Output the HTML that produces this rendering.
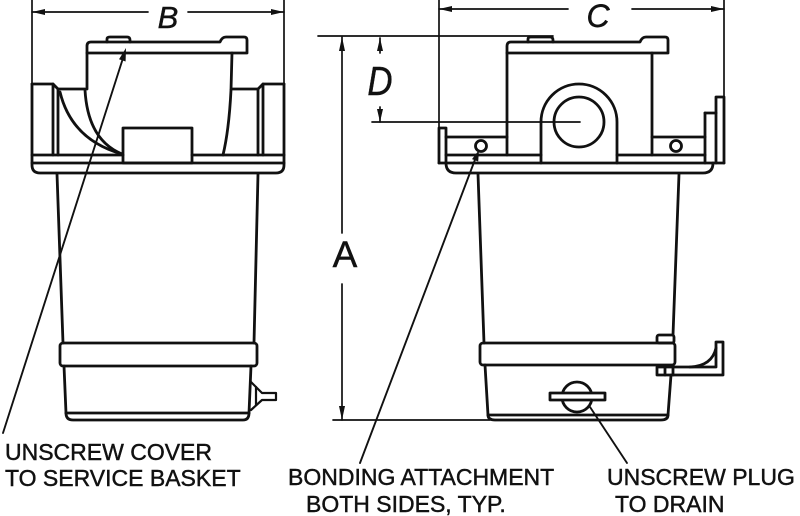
<!DOCTYPE html>
<html><head><meta charset="utf-8"><style>
html,body{margin:0;padding:0;background:#fff;}
svg{display:block;}
text{font-family:"Liberation Sans",Arial,sans-serif;fill:#111;stroke:#111;stroke-width:0.45;}
</style></head><body>
<svg width="800" height="516" viewBox="0 0 800 516" xmlns="http://www.w3.org/2000/svg">
<g fill="none" stroke="#111" stroke-width="2.8" stroke-linejoin="round" stroke-linecap="round">
<!-- ===== LEFT VIEW ===== -->
<g stroke-width="1.7">
<line x1="32" y1="0" x2="32" y2="84"/>
<line x1="284" y1="0" x2="284" y2="84"/>
<line x1="32" y1="12" x2="148" y2="12"/>
<line x1="188" y1="12" x2="284" y2="12"/>
</g>
<path d="M32,84 L32,165 Q32,173 40,173 L276,173 Q284,173 284,165 L284,84"/>
<line x1="32" y1="163" x2="284" y2="163"/>
<line x1="32" y1="155" x2="123" y2="155"/>
<line x1="192" y1="155" x2="284" y2="155"/>
<path d="M32,84 L53,84 L58,89 L85,89"/>
<line x1="53" y1="84" x2="53" y2="155"/>
<line x1="58" y1="89" x2="58" y2="155"/>
<path d="M284,84 L263,84 L258,89 L232,89"/>
<line x1="263" y1="84" x2="263" y2="155"/>
<line x1="258" y1="89" x2="258" y2="155"/>
<rect x="123" y="128" width="69" height="35"/>
<path d="M87,53 L87,46 Q87,42 91,42 L220,42 Q222,37 226,37 L244,37 Q247,37 247,40 L247,53 Z"/>
<path d="M107,42 L107,39 Q107,37 110,37 L127,37 Q130,37 130,40 L130,42"/>
<line x1="87" y1="53" x2="87" y2="89"/>
<path d="M232,53 L231,90 Q229,130 223,155"/>
<path d="M60,92 C68,125 90,145 122,154"/>
<path d="M85,90 C87,125 100,145 122,154"/>
<line x1="57" y1="174" x2="63" y2="343"/>
<line x1="258" y1="174" x2="254" y2="343"/>
<rect x="60" y="343" width="197" height="23" rx="3"/>
<line x1="64" y1="366" x2="66" y2="413"/>
<line x1="251" y1="366" x2="249" y2="413"/>
<line x1="66" y1="413" x2="249" y2="413"/>
<path d="M66,413 Q66,420 73,420 L243,420 Q249,420 249,413"/>
<path d="M251,382 L262,393 L276,393 L276,400 L262,400 L251,410" stroke-width="2.2"/>
<line x1="256" y1="387" x2="256" y2="405" stroke-width="2.2"/>
<line x1="124" y1="55" x2="3" y2="433" stroke-width="1.9"/>

<!-- ===== RIGHT VIEW ===== -->
<g stroke-width="1.7">
<line x1="439" y1="0" x2="439" y2="128"/>
<line x1="724" y1="0" x2="724" y2="97"/>
<line x1="439" y1="9" x2="568" y2="9"/>
<line x1="632" y1="9" x2="724" y2="9"/>
<line x1="318" y1="36" x2="553" y2="36"/>
<line x1="342" y1="37" x2="342" y2="233"/>
<line x1="342" y1="284" x2="342" y2="420"/>
<line x1="333" y1="420" x2="490" y2="420"/>
<line x1="380" y1="38" x2="380" y2="53"/>
<line x1="380" y1="107" x2="380" y2="122"/>
<line x1="372" y1="122" x2="580" y2="122"/>
</g>
<path d="M507,53 L507,46 Q507,42 511,42 L640,42 Q642,37 646,37 L665,37 Q668,37 668,40 L668,53 Z"/>
<path d="M528,42 L528,39 Q528,37 531,37 L550,37 Q553,37 553,40 L553,42"/>
<line x1="507" y1="53" x2="507" y2="155"/>
<line x1="652" y1="53" x2="652" y2="155"/>
<path d="M541,163 L541,122 A38,38 0 0 1 617,122 L617,163"/>
<circle cx="579" cy="122" r="25"/>
<path d="M439,163 L439,128 L446,128 L446,163"/>
<line x1="446" y1="137" x2="507" y2="137"/>
<line x1="446" y1="155" x2="541" y2="155"/>
<line x1="617" y1="155" x2="705" y2="155"/>
<line x1="652" y1="137" x2="705" y2="137"/>
<line x1="439" y1="163" x2="724" y2="163"/>
<line x1="705" y1="113" x2="705" y2="163"/>
<line x1="705" y1="113" x2="716" y2="113"/>
<path d="M716,163 L716,97 L724,97 L724,163"/>
<path d="M446,163 Q446,173 456,173 L703,173 Q713,173 713,163"/>
<circle cx="481" cy="146" r="5.5"/>
<circle cx="676" cy="146" r="5.5"/>
<line x1="478" y1="174" x2="484" y2="343"/>
<line x1="679" y1="174" x2="673" y2="335"/>
<rect x="480" y="343" width="195" height="22" rx="3"/>
<rect x="657" y="335" width="17" height="8" rx="2"/>
<line x1="485" y1="365" x2="488" y2="415"/>
<line x1="671" y1="375" x2="668" y2="415"/>
<line x1="488" y1="415" x2="668" y2="415"/>
<path d="M488,415 Q488,420 495,420 L661,420 Q668,420 668,415"/>
<rect x="657" y="367" width="16" height="8"/>
<line x1="665" y1="367" x2="665" y2="375"/>
<path d="M673,367 L716,367 L716,342 L723,342 L723,375 L673,375"/>
<path d="M716,348 Q712,366 690,367"/>
<circle cx="577" cy="397" r="15"/>
<rect x="550" y="393" width="55" height="7" fill="#fff"/>
<line x1="476" y1="157" x2="360" y2="463" stroke-width="1.9"/>
<line x1="590" y1="407" x2="627" y2="463" stroke-width="1.9"/>
</g>
<g fill="#111" stroke="none">
<polygon points="32,12 45,9 45,15"/>
<polygon points="284,12 271,9 271,15"/>
<polygon points="439,9 452,6 452,12"/>
<polygon points="724,9 711,6 711,12"/>
<polygon points="342,37 339,51 345,51"/>
<polygon points="342,420 339,406 345,406"/>
<polygon points="380,38 377,51 383,51"/>
<polygon points="380,122 377,109 383,109"/>
<polygon points="126,48 125.6,61.5 119.0,59.3"/>
<polygon points="479,150 478.2,161.5 472.0,159.1"/>
</g>
<text x="168" y="28" font-size="31" font-style="italic" text-anchor="middle">B</text>
<text x="598" y="27" font-size="32" font-style="italic" text-anchor="middle">C</text>
<text x="345" y="267" font-size="37" text-anchor="middle">A</text>
<text transform="translate(380,95) scale(0.85,1)" font-size="41" font-style="italic" text-anchor="middle">D</text>
<g font-size="23">
<text x="5" y="460">UNSCREW COVER</text>
<text x="5" y="486">TO SERVICE BASKET</text>
<text x="288" y="485">BONDING ATTACHMENT</text>
<text x="306" y="512">BOTH SIDES, TYP.</text>
<text x="607" y="485">UNSCREW PLUG</text>
<text x="615" y="512">TO DRAIN</text>
</g>
</svg>
</body></html>
